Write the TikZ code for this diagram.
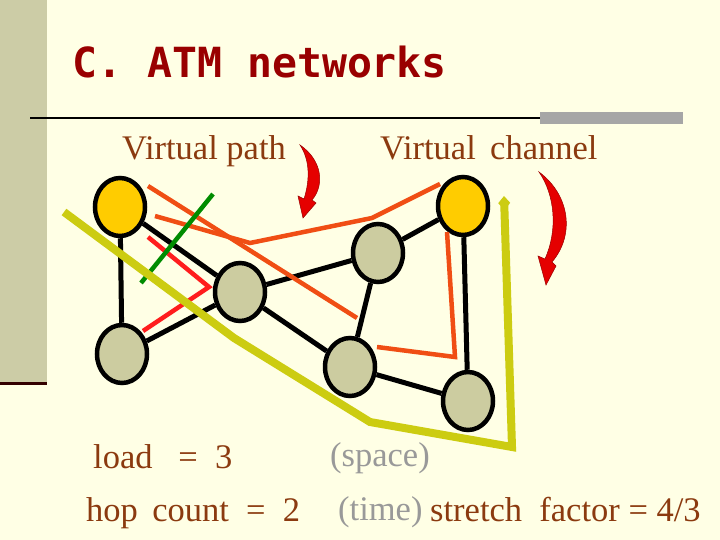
\documentclass[tikz,border=0pt]{standalone}
\usepackage{fontspec}
\setmainfont{Liberation Serif}
\newfontfamily\titlefont{DejaVu Sans Mono}
\usetikzlibrary{arrows.meta,shapes.geometric}
\definecolor{bg}{HTML}{FFFFE5}
\definecolor{side}{HTML}{CCCCA6}
\definecolor{nodegray}{HTML}{CCCCA0}
\definecolor{gold}{HTML}{FFCC00}
\definecolor{brownt}{HTML}{8B3A0F}
\definecolor{orangered}{HTML}{F04E14}
\definecolor{ygreen}{HTML}{CCCC11}
\begin{document}
\begin{tikzpicture}[x=1pt,y=-1pt,
  nd/.style={draw=black,line width=4.5pt,ellipse,minimum width=50pt,minimum height=58pt,inner sep=0pt},
  gnode/.style={nd,fill=nodegray},
  ynode/.style={nd,fill=gold},
  edge/.style={line width=5pt,black},
  vc/.style={line width=4.5pt,orangered},
  lbl/.style={text=brownt,font=\fontsize{34.5}{36}\selectfont,anchor=base west,inner sep=0pt},
  gl/.style={lbl,text=gray!80}]
\fill[bg] (0,0) rectangle (720,540);
\useasboundingbox (0,0) rectangle (720,540);
\fill[side] (0,0) rectangle (47,383);
\draw[line width=3pt,black!80!red] (0,383) -- (47,383);
\draw[line width=1.5pt,black] (30,118) -- (683,118);
\fill[gray!70] (540,112) rectangle (683,124);
\node[anchor=base west,inner sep=0pt,text=red!60!black,font=\titlefont\bfseries\fontsize{41.5}{44}\selectfont] (title) at (72,78) {C. ATM networks};
\node[lbl] (vp) at (122,160) {Virtual path};
\node[lbl] (vch) at (380,160) {Virtual\, channel};
\node[lbl] (ld) at (93,468) {load \ \ = \ 3};
\node[lbl] (hc) at (86,521) {hop\, count \ = \ 2};
\node[gl] (sp) at (330,466) {(space)};
\node[gl] (tm) at (338,520) {(time)};
\node[lbl] (sf) at (430,521) {stretch \ factor = 4/3};
% network
\node[ynode] (A) at (120,207) {};
\node[ynode] (B) at (463,206) {};
\node[gnode] (C) at (240,292) {};
\node[gnode] (D) at (122,354) {};
\node[gnode] (E) at (378,253) {};
\node[gnode] (F) at (350,367) {};
\node[gnode] (G) at (468,401) {};
\draw[edge] (A) -- (D);
\draw[edge] (A) -- (C);
\draw[edge] (C) -- (D);
\draw[edge] (C) -- (E);
\draw[edge] (C) -- (F);
\draw[edge] (E) -- (B);
\draw[edge] (E) -- (F);
\draw[edge] (F) -- (G);
\draw[edge] (B) -- (G);
% virtual channels
\coordinate (o1) at (155,216);\coordinate (o2) at (250,243);\coordinate (o3) at (372,218);\coordinate (o4) at (440,184);
\draw[vc] (o1) -- (o2) -- (o3) -- (o4);
\coordinate (p1) at (148,186);\coordinate (p2) at (357,318);
\draw[vc] (p1) -- (p2);
\coordinate (q1) at (447,232);\coordinate (q2) at (455,357);\coordinate (q3) at (377,347);
\draw[vc] (q1) -- (q2) -- (q3);
\coordinate (r1) at (148,237);\coordinate (r2) at (209,287);\coordinate (r3) at (143,331);
\draw[line width=4.5pt,red!85!pink] (r1) -- (r2) -- (r3);
\coordinate (g1) at (213,194);\coordinate (g2) at (141,283);
\draw[line width=4.5pt,green!55!black] (g1) -- (g2);
\coordinate (y1) at (64,212);\coordinate (y2) at (234,338);\coordinate (y3) at (370,422);\coordinate (y4) at (512,447);\coordinate (y5) at (504,196);
\draw[line width=8pt,ygreen,-{Diamond[length=14pt,width=12pt]}] (y1) -- (y2) -- (y3) -- (y4) -- (y5);
% curved arrows
\fill[red!90!black,draw=red!60!black,line width=0.5pt]
 (300,145) .. controls (322,160) and (325,185) .. (312,200)
 -- (316,203) -- (303,218) -- (298,196) -- (304,199)
 .. controls (310,180) and (310,160) .. (300,145) -- cycle;
\fill[red!90!black,draw=red!60!black,line width=0.5pt]
 (539,172) .. controls (570,195) and (575,235) .. (552,262)
 -- (556,266) -- (546,285) -- (538,256) -- (545,259)
 .. controls (558,230) and (555,195) .. (539,172) -- cycle;
\end{tikzpicture}
\end{document}
